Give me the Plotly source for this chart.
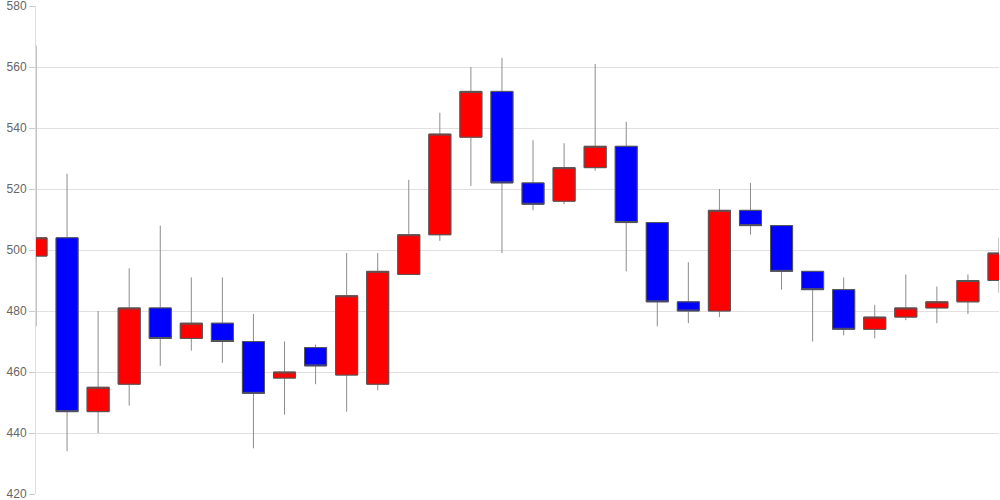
import plotly.graph_objects as go

idx = list(range(32))
open_ = [498, 504, 447, 456, 481, 471, 476, 470, 458, 468, 459, 456, 492, 505, 537, 552,
         522, 516, 527, 534, 509, 483, 480, 513, 508, 493, 487, 474, 478, 481, 483, 490]
high = [567, 525, 480, 494, 508, 491, 491, 479, 470, 469, 499, 499, 523, 545, 560, 563,
        536, 535, 561, 542, 509, 496, 520, 522, 508, 493, 491, 482, 492, 488, 492, 504]
low = [475, 434, 440, 449, 462, 467, 463, 435, 446, 456, 447, 454, 492, 503, 521, 499,
       513, 515, 526, 493, 475, 476, 478, 505, 487, 470, 472, 471, 477, 476, 479, 486]
close = [504, 447, 455, 481, 471, 476, 470, 453, 460, 462, 485, 493, 505, 538, 552, 522,
         515, 527, 534, 509, 483, 480, 513, 508, 493, 487, 474, 478, 481, 483, 490, 499]

y_ticks = [420, 440, 460, 480, 500, 520, 540, 560, 580]

body_top = [max(o, c) for o, c in zip(open_, close)]
body_bot = [min(o, c) for o, c in zip(open_, close)]

fig = go.Figure()
# wicks (lighter grey)
fig.add_trace(go.Candlestick(
    x=idx, open=open_, high=high, low=low, close=close,
    increasing=dict(fillcolor="#ff0000", line=dict(color="#8c8c8c", width=1)),
    decreasing=dict(fillcolor="#0000ff", line=dict(color="#8c8c8c", width=1)),
    whiskerwidth=0, hoverinfo="skip",
))
# bodies with darker outline
fig.add_trace(go.Candlestick(
    x=idx, open=open_, high=body_top, low=body_bot, close=close,
    increasing=dict(fillcolor="#ff0000", line=dict(color="#555555", width=1)),
    decreasing=dict(fillcolor="#0000ff", line=dict(color="#555555", width=1)),
    whiskerwidth=0, hoverinfo="skip",
))

fig.update_layout(
    width=1000, height=500,
    margin=dict(l=36, r=1, t=6, b=6, autoexpand=False),
    paper_bgcolor="white", plot_bgcolor="white",
    showlegend=False,
    boxmode="overlay", boxgap=0.29, boxgroupgap=0,
    font=dict(family="Liberation Sans, Arial, sans-serif", size=12, color="#666666"),
    xaxis=dict(range=[0, 31], showticklabels=False, showgrid=False, zeroline=False,
               rangeslider=dict(visible=False), ticks="", showline=False,
               fixedrange=True, automargin=False),
    yaxis=dict(range=[420, 580], tickvals=y_ticks, ticktext=[str(v) for v in y_ticks],
               showgrid=True, gridcolor="#e0e0e0", gridwidth=1, zeroline=False,
               showline=True, linecolor="#dddddd", linewidth=1,
               ticks="outside", ticklen=6, tickcolor="#cccccc",
               tickfont=dict(size=12, color="#666666"), fixedrange=True,
               automargin=False, ticklabeloverflow="allow"),
)

fig.write_html("out.html", config=dict(displayModeBar=False),
               post_script="document.body.style.margin='0';document.body.style.overflow='hidden';")
